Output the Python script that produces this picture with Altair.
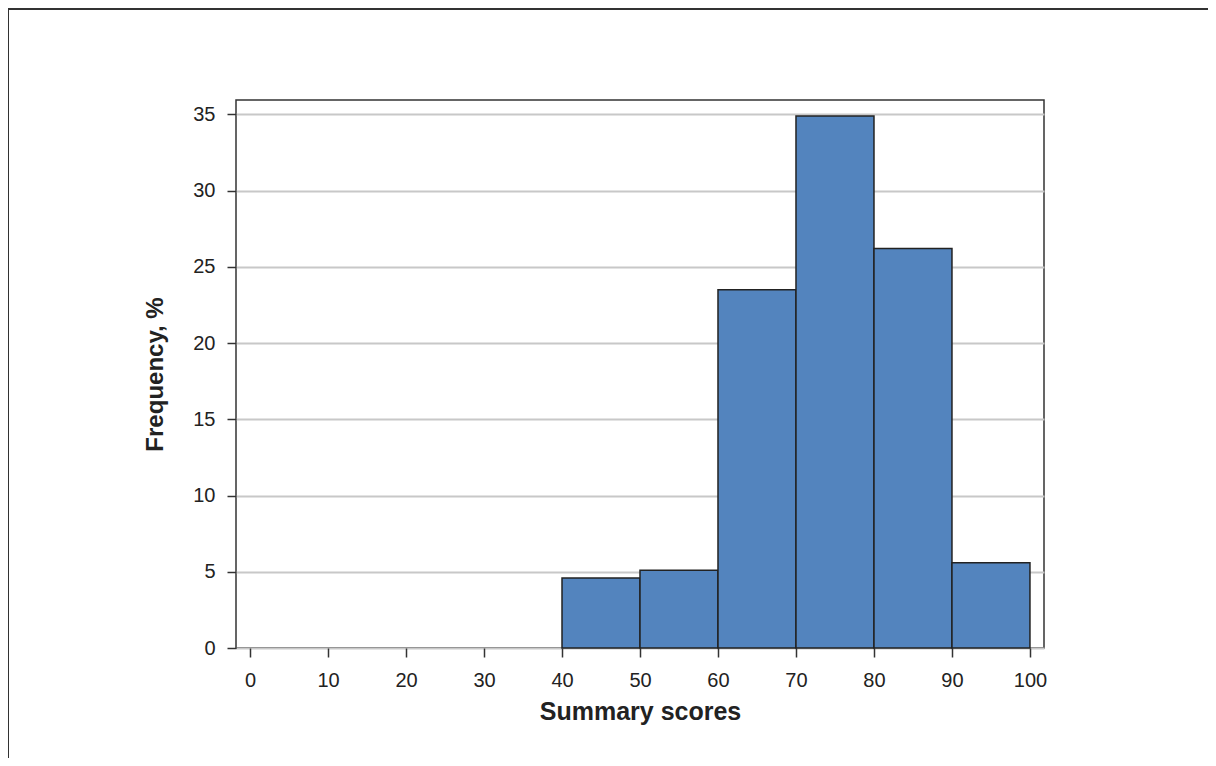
import altair as alt
import pandas as pd

bin_start = [40, 50, 60, 70, 80, 90]
bin_end = [50, 60, 70, 80, 90, 100]
frequency = [4.6, 5.1, 23.5, 34.9, 26.2, 5.6]
x_ticks = [0, 10, 20, 30, 40, 50, 60, 70, 80, 90, 100]
y_ticks = [0, 5, 10, 15, 20, 25, 30, 35]

df = pd.DataFrame({"start": bin_start, "end": bin_end, "freq": frequency})

W, H = 808, 548
FONT = "Liberation Sans"

bars = alt.Chart(df).mark_rect(
    color="#5384be", stroke="#222222", strokeWidth=1.5
).encode(
    x=alt.X(
        "start:Q",
        scale=alt.Scale(domain=[-1.8, 101.8], nice=False, zero=False),
        axis=alt.Axis(
            values=x_ticks, title="Summary scores", grid=False,
            titleX=W / 2, titleY=71, titleBaseline="alphabetic",
            titleAlign="center",
        ),
    ),
    x2="end:Q",
    y=alt.Y(
        "freq:Q",
        scale=alt.Scale(domain=[0, 35.95], nice=False),
        axis=alt.Axis(
            values=y_ticks, title="Frequency, %", grid=True,
            titleX=-74, titleY=H / 2, titleBaseline="alphabetic",
            titleAlign="center", titleAngle=-90,
        ),
    ),
    y2=alt.datum(0),
)

frame_top = alt.Chart(df).mark_rule(color="#333333", strokeWidth=1.5).encode(
    x=alt.value(-228), x2=alt.value(1000), y=alt.value(-91)
)
frame_left = alt.Chart(df).mark_rule(color="#333333", strokeWidth=1.5).encode(
    x=alt.value(-228), y=alt.value(-91), y2=alt.value(700)
)

chart = alt.layer(frame_top, frame_left, bars).properties(
    width=W, height=H,
    autosize=alt.AutoSizeParams(type="none"),
    padding={"left": 228, "top": 92, "right": 164, "bottom": 110},
).configure_view(
    stroke="#333333", strokeWidth=1.5
).configure_axis(
    domain=False,
    labelFont=FONT, labelFontSize=20, labelColor="#222222",
    titleFont=FONT, titleFontSize=24, titleFontWeight="bold", titleColor="#222222",
    tickColor="#333333", tickSize=9, tickWidth=1.5,
    gridColor="#c8c8c8", gridWidth=2,
).configure_axisX(
    labelPadding=13, titleFontSize=25,
).configure_axisY(
    labelPadding=12,
)

chart.save("out.html", embed_options={"renderer": "svg", "actions": False})
